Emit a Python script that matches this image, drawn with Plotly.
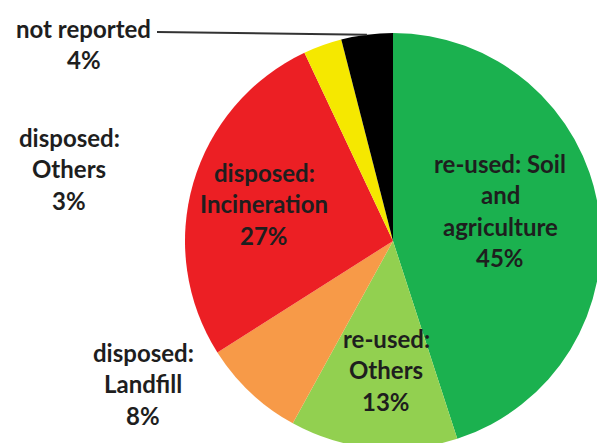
import math
import plotly.graph_objects as go

# Sludge destination shares (percent), clockwise from 12 o'clock
labels = [
    "re-used: Soil<br>and<br>agriculture",
    "re-used:<br>Others",
    "disposed:<br>Landfill",
    "disposed:<br>Incineration",
    "disposed:<br>Others",
    "not reported",
]
values = [45, 13, 8, 27, 3, 4]
colors = ["#1BB14F", "#92D050", "#F79A48", "#EC1F24", "#F5E800", "#000000"]

# Figure geometry (pixels)
W, H = 601, 449
CX, CY, R = 393, 241, 208

# Label placement: (centre x, first-line y) in pixels for each slice
label_pos = [(500, 163), (386, 338), (143, 352), (264, 172), (69, 137), (84, 28)]
LINE_PITCH = 31.5
TEXT_COLOR = "#1e1e1e"


def px_x(x):
    return x / W


def px_y(y):
    return 1 - y / H


fig = go.Figure(
    go.Pie(
        labels=labels,
        values=values,
        sort=False,
        direction="clockwise",
        rotation=0,
        marker=dict(colors=colors, line=dict(width=0)),
        textinfo="none",
        hoverinfo="label+percent",
        showlegend=False,
        domain=dict(
            x=[px_x(CX - R), px_x(CX + R)],
            y=[px_y(CY + R), px_y(CY - R)],
        ),
    )
)

total = sum(values)
annotations = []
for lab, val, (lx, ly) in zip(labels, values, label_pos):
    lines = lab.split("<br>") + [f"{round(100 * val / total)}%"]
    for i, line in enumerate(lines):
        annotations.append(
            dict(
                x=px_x(lx),
                y=px_y(ly + i * LINE_PITCH),
                xref="paper",
                yref="paper",
                text=line,
                showarrow=False,
                xanchor="center",
                yanchor="middle",
                font=dict(family="Lato", size=24, color=TEXT_COLOR, weight="bold"),
            )
        )

# Leader line from the "not reported" label to the middle of its slice edge
cum = sum(values[:-1])
mid_angle = 2 * math.pi * (cum + values[-1] / 2) / total
edge_x = CX + R * math.sin(mid_angle)
edge_y = CY - R * math.cos(mid_angle)
shapes = [
    dict(
        type="line",
        xref="paper",
        yref="paper",
        x0=px_x(157),
        y0=px_y(32),
        x1=px_x(edge_x),
        y1=px_y(edge_y),
        line=dict(color="#333333", width=2),
    )
]

fig.update_layout(
    width=W,
    height=H,
    margin=dict(l=0, r=0, t=0, b=0),
    paper_bgcolor="white",
    plot_bgcolor="white",
    annotations=annotations,
    shapes=shapes,
)

fig.write_html(
    "out.html",
    post_script="document.body.style.overflow='hidden';document.documentElement.style.overflow='hidden';",
)
